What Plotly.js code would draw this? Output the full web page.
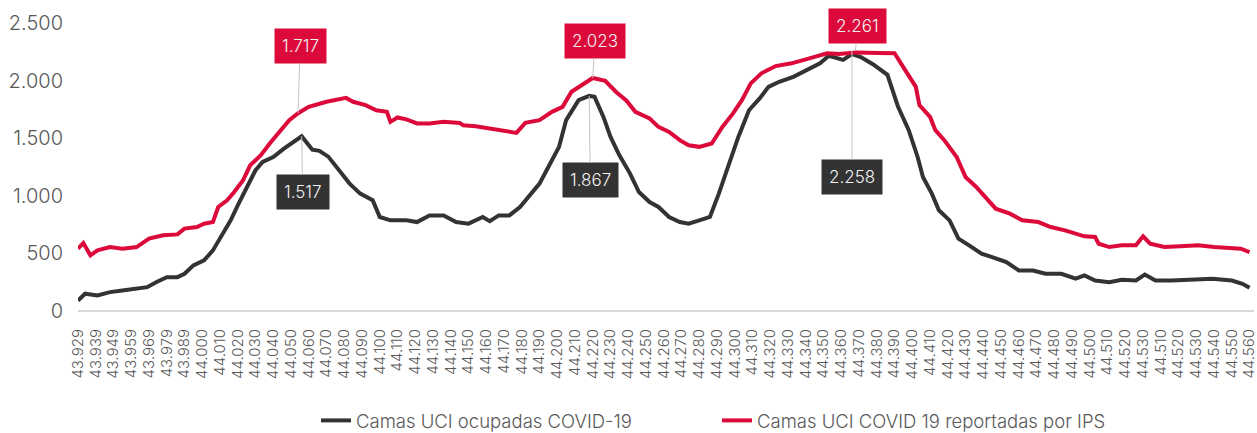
<!DOCTYPE html>
<html>
<head>
<meta charset="utf-8">
<script src="https://cdn.plot.ly/plotly-3.0.1.min.js"></script>
<style>
  html, body { margin: 0; padding: 0; background: #ffffff; }
  #chart { width: 1257px; height: 433px; }
</style>
</head>
<body>
<div id="chart"></div>
<script>
// Category tick labels (every 10th category of the original axis)
const tickLabels = [
  "43.929","43.939","43.949","43.959","43.969","43.979","43.989",
  "44.000","44.010","44.020","44.030","44.040","44.050","44.060","44.070","44.080","44.090",
  "44.100","44.110","44.120","44.130","44.140","44.150","44.160","44.170","44.180","44.190",
  "44.200","44.210","44.220","44.230","44.240","44.250","44.260","44.270","44.280","44.290",
  "44.300","44.310","44.320","44.330","44.340","44.350","44.360","44.370","44.380","44.390",
  "44.400","44.410","44.420","44.430","44.440","44.450","44.460","44.470","44.480","44.490",
  "44.500","44.510","44.520","44.530",
  "44.510","44.520","44.530","44.540","44.550","44.560"
];

// Series 1: Camas UCI ocupadas COVID-19 (category index, value)
const ocupadasIdx = [0,4,11,18,25,33,39,44,50,56,60,65,71,76,81,86,90,95,100,104,110,116,121,126,132,136,141,147,153,159,166,170,176,185,191,198,206,213,220,228,232,237,243,249,254,260,266,271,275,279,282,288,291,296,300,305,311,316,322,327,333,339,344,350,356,361,367,372,378,384,389,395,403,410,418,423,431,436,441,448,456,462,468,473,476,481,485,491,496,502,509,515,523,530,538,545,554,562,567,573,581,588,596,601,607,616,628,639,650,656,660];
const ocupadasVal = [90,150,135,164,178,193,207,250,294,294,323,396,439,526,657,787,917,1077,1222,1294,1337,1410,1468,1517,1400,1390,1340,1222,1106,1019,961,816,787,787,772,830,830,772,758,816,780,830,830,903,990,1106,1280,1425,1657,1758,1830,1867,1859,1685,1511,1352,1193,1033,946,903,816,772,758,787,816,1019,1280,1511,1743,1845,1946,1990,2033,2091,2150,2215,2180,2230,2205,2140,2050,1772,1570,1337,1163,1019,874,787,628,570,497,468,424,352,352,323,323,280,309,265,250,271,265,317,265,265,271,280,265,236,202];

// Series 2: Camas UCI COVID 19 reportadas por IPS (category index, value)
const reportadasIdx = [0,3,7,11,18,25,33,40,48,56,60,67,71,76,79,84,88,93,97,103,108,114,119,124,130,140,144,151,155,162,168,174,176,180,185,191,198,206,215,217,224,232,239,247,252,260,267,273,278,282,287,290,297,303,309,314,322,327,333,339,344,350,357,363,369,374,379,385,393,402,412,422,429,438,451,460,466,472,474,480,483,488,495,500,506,511,517,525,532,541,548,556,563,567,573,575,581,588,596,600,604,612,621,631,640,650,655,660];
const reportadasVal = [541,590,483,526,555,541,555,628,657,665,715,729,758,772,903,961,1033,1135,1265,1352,1454,1570,1657,1717,1772,1816,1830,1850,1816,1787,1743,1729,1642,1680,1663,1628,1628,1642,1633,1613,1604,1584,1570,1546,1633,1657,1729,1772,1903,1946,1990,2023,1998,1903,1825,1729,1671,1598,1555,1483,1439,1425,1454,1598,1715,1830,1976,2063,2126,2150,2193,2237,2230,2245,2240,2238,2091,1946,1787,1685,1570,1483,1337,1163,1077,990,888,845,787,772,729,700,671,648,642,584,555,570,570,648,584,555,561,570,555,541,541,511];

const seriesNames = ["Camas UCI ocupadas COVID-19", "Camas UCI COVID 19 reportadas por IPS"];
const yTicks = [0, 500, 1000, 1500, 2000, 2500];

// Highlighted values
const callouts = [
  {series: 1, idx: 124, val: 1717, text: "1.717", ax: 2, ay: -67},
  {series: 0, idx: 126, val: 1517, text: "1.517", ax: 1, ay: 56},
  {series: 1, idx: 290, val: 2023, text: "2.023", ax: 2, ay: -37},
  {series: 0, idx: 288, val: 1867, text: "1.867", ax: 1, ay: 84},
  {series: 1, idx: 438, val: 2261, text: "2.261", ax: 2, ay: -25},
  {series: 0, idx: 436, val: 2258, text: "2.258", ax: 0, ay: 126}
];

const BLACK = "#333333";
const RED = "#DC0A3B";
const FONT = "Inter, Lato, 'Open Sans', sans-serif";

const tickVals = tickLabels.map((_, i) => i * 10);

const traces = [
  {x: ocupadasIdx, y: ocupadasVal, name: seriesNames[0], type: "scatter", mode: "lines",
   line: {color: BLACK, width: 4}},
  {x: reportadasIdx, y: reportadasVal, name: seriesNames[1], type: "scatter", mode: "lines",
   line: {color: RED, width: 4}}
];

const annotations = callouts.map(c => ({
  x: c.idx, y: c.val, xref: "x", yref: "y",
  text: c.text, showarrow: true, arrowhead: 0, arrowwidth: 1, arrowcolor: "#c4c4c4",
  ax: c.ax, ay: c.ay,
  bgcolor: c.series === 1 ? RED : BLACK,
  borderpad: 7,
  font: {family: FONT, size: 17, color: "#f2f2f2", weight: 300}
}));

const layout = {
  width: 1257, height: 433,
  margin: {l: 78, r: 3, t: 23, b: 122},
  paper_bgcolor: "#ffffff", plot_bgcolor: "#ffffff",
  separators: ",.",
  showlegend: true,
  legend: {orientation: "h", x: 0.2514, xanchor: "left", xref: "container",
           y: 0.028, yanchor: "middle", yref: "container",
           font: {family: FONT, size: 18.5, color: "#595959", weight: 300},
           itemwidth: 30, tracegroupgap: 0, entrywidth: 356, entrywidthmode: "pixels"},
  xaxis: {range: [0, 662.5], tickmode: "array", tickvals: tickVals, ticktext: tickLabels,
          tickangle: -90, ticks: "", showgrid: false, zeroline: false,
          showline: false, automargin: false, ticklabelstandoff: 14, ticklabeloverflow: "allow",
          tickfont: {family: FONT, size: 15, color: "#595959", weight: 300}},
  yaxis: {range: [0, 2500], tickmode: "array", tickvals: yTicks, tickformat: ",d",
          showgrid: false, zeroline: true, zerolinecolor: "#d9d9d9", zerolinewidth: 1.5,
          showline: false, ticks: "", automargin: false, ticklabelstandoff: 14,
          tickfont: {family: FONT, size: 20, color: "#595959", weight: 300}},
  annotations: annotations
};

Plotly.newPlot("chart", traces, layout, {displayModeBar: false, staticPlot: true});
</script>
</body>
</html>
